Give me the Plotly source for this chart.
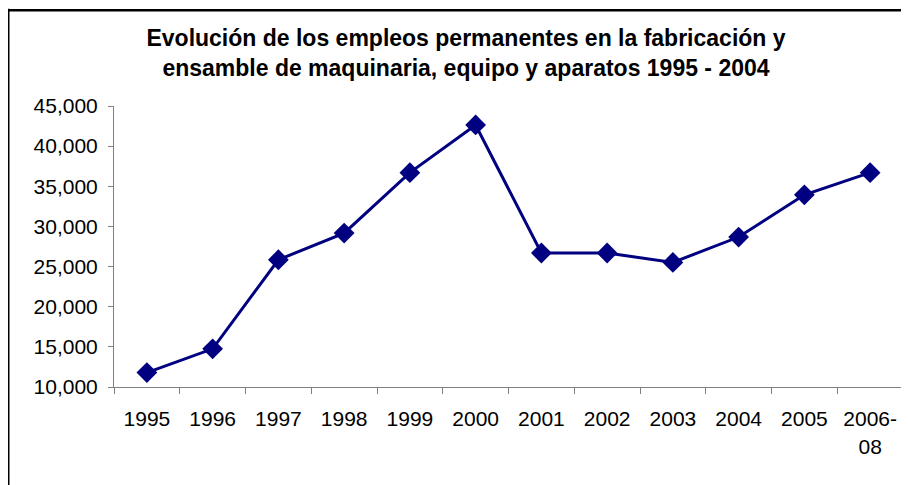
import plotly.graph_objects as go

years = ["1995", "1996", "1997", "1998", "1999", "2000", "2001", "2002",
         "2003", "2004", "2005", "2006-<br>08"]
empleos = [11800, 14750, 25850, 29170, 36700, 42640, 26690, 26690,
           25520, 28680, 33940, 36700]
y_ticks = [10000, 15000, 20000, 25000, 30000, 35000, 40000, 45000]
y_tick_text = ["10,000", "15,000", "20,000", "25,000", "30,000",
               "35,000", "40,000", "45,000"]

title_text = ("Evolución de los empleos permanentes en la fabricación y<br>"
              "ensamble de maquinaria, equipo y aparatos 1995 - 2004")

# page body has an 8px margin, so figure coords = window coords - 8
W, H = 901, 477
L, R, T, B = 106, 6, 98, 97.5
pw, ph = W - L - R, H - T - B

fig = go.Figure()
fig.add_trace(go.Scatter(
    x=years, y=empleos, mode="lines+markers",
    line=dict(color="#000080", width=3),
    marker=dict(symbol="diamond", size=16, color="#000080"),
    hoverinfo="x+y", cliponaxis=False,
))

fig.update_layout(
    width=W, height=H,
    margin=dict(l=L, r=R, t=T, b=B, pad=0),
    paper_bgcolor="white", plot_bgcolor="white",
    showlegend=False,
    font=dict(family="Liberation Sans, Arial, sans-serif", color="black", size=21),
    title=dict(text=title_text, x=458 / W, xanchor="center",
               y=1 - 38 / H, yanchor="top", yref="container",
               font=dict(size=23, family="Liberation Sans, Arial, sans-serif",
                         weight="bold", color="black")),
    xaxis=dict(type="category", range=[-0.5, len(years) - 0.5],
               showline=True, linecolor="#808080", linewidth=1,
               ticks="outside", ticklen=6, tickcolor="#808080", tickson="boundaries",
               showgrid=False, zeroline=False, tickfont=dict(size=21),
               ticklabelstandoff=13, fixedrange=True),
    yaxis=dict(range=[10000, 45000], tickvals=y_ticks, ticktext=y_tick_text,
               showline=True, linecolor="#808080", linewidth=1,
               ticks="outside", ticklen=5, tickcolor="#808080",
               showgrid=False, zeroline=False, tickfont=dict(size=21),
               ticklabelstandoff=6, fixedrange=True),
    shapes=[
        # left frame edge
        dict(type="line", xref="paper", yref="paper",
             x0=(0.5 - L) / pw, x1=(0.5 - L) / pw,
             y0=(H - B - 0.5) / ph, y1=(H - B - H - 10) / ph,
             line=dict(color="black", width=2), layer="above"),
        # top frame edge
        dict(type="line", xref="paper", yref="paper",
             x0=(0 - L) / pw, x1=(W + 10 - L) / pw,
             y0=(H - B - 2) / ph, y1=(H - B - 2) / ph,
             line=dict(color="black", width=2.5), layer="above"),
    ],
)

fig.write_html("out.html")
